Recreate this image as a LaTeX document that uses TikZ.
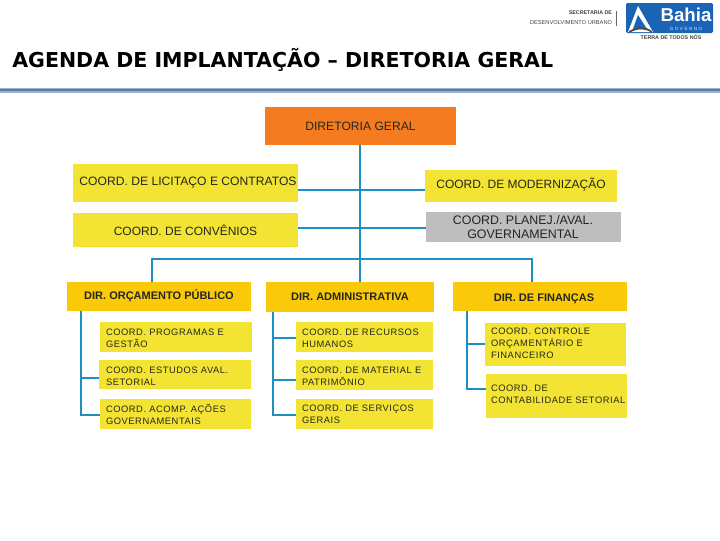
\documentclass[tikz,border=0pt]{standalone}
\usepackage{fontspec}
\setmainfont{Liberation Sans}
\newfontfamily\titlefont{DejaVu Sans}
\newfontfamily\spacedfont[LetterSpace=6]{Liberation Sans}
\definecolor{ybox}{HTML}{F3E433}
\definecolor{gbox}{HTML}{F9C90A}
\definecolor{obox}{HTML}{F47B20}
\definecolor{gybox}{HTML}{BEBEBE}
\definecolor{link}{HTML}{1E8FC4}
\definecolor{txt}{HTML}{26261E}
\definecolor{rulea}{HTML}{4F7FAF}
\definecolor{ruleb}{HTML}{9DB3CB}
\definecolor{logob}{HTML}{1B63B4}
\tikzset{
  x=0.75pt,y=-0.75pt,
  boxbase/.style={inner sep=0pt,outer sep=0pt,text=txt,align=center,font=\fontsize{9pt}{10.5pt}\selectfont},
  linebox/.style={boxbase,fill=ybox},
  dirbox/.style={boxbase,fill=gbox,font=\bfseries\fontsize{8.25pt}{10pt}\selectfont},
  topbox/.style={boxbase,fill=obox,font=\fontsize{9.1pt}{10.5pt}\selectfont},
  grayBox/.style={boxbase,fill=gybox,font=\fontsize{9.3pt}{10.5pt}\selectfont},
  subtext/.style={inner sep=0pt,outer sep=0pt,text=txt,align=left,anchor=north west,font=\spacedfont\fontsize{7pt}{9pt}\selectfont},
  conn/.style={draw=link,line width=1.5pt},
  logotext/.style={inner sep=0pt,outer sep=0pt,text=black!75},
}
\newcommand{\abox}[7]{\node[#1,minimum width=#4*0.75pt-#2*0.75pt,minimum height=#5*0.75pt-#3*0.75pt,anchor=north west] (#6) at (#2,#3) {#7};}
\begin{document}
\begin{tikzpicture}
\useasboundingbox (0,0) rectangle (720,540);
% logo
\node[logotext,anchor=east,font=\bfseries\fontsize{4pt}{4pt}\selectfont] (sec) at (612,13) {SECRETARIA DE};
\node[logotext,anchor=east,font=\fontsize{4.25pt}{5pt}\selectfont] (des) at (612,23) {DESENVOLVIMENTO URBANO};
\fill[black!60] (616,11) rectangle (616.8,26);
\fill[logob,rounded corners=1pt] (626,3) rectangle (713,33);
\fill[white] (638,6) -- (628,32) -- (653,32) -- cycle;
\fill[logob] (638,15) -- (633,29) -- (647,29) -- cycle;
\fill[black!70] (629,31) .. controls (638,26) and (645,26) .. (652,31) -- (652,33) .. controls (645,28) and (638,28) .. (629,33) -- cycle;
\node[inner sep=0pt,text=white,font=\bfseries\fontsize{14pt}{14pt}\selectfont,anchor=center] (bah) at (686,14.5) {Bahia};
\node[inner sep=0pt,text=white!85!logob,font=\fontsize{3.4pt}{3.4pt}\selectfont,anchor=center] (gov) at (686,28.5) {G\,\,O\,\,V\,\,E\,\,R\,\,N\,\,O};
\node[logotext,font=\bfseries\fontsize{4pt}{4pt}\selectfont,anchor=center] (ter) at (671,37.5) {TERRA DE TODOS NÓS};
% title
\node[inner sep=0pt,anchor=west,text=black,font=\titlefont\bfseries\fontsize{15.4pt}{16pt}\selectfont] (title) at (12,59.5) {AGENDA DE IMPLANTAÇÃO – DIRETORIA GERAL};
\fill[ruleb] (0,88) rectangle (720,92.5);
\fill[rulea] (0,89) rectangle (720,91);
% boxes
\abox{topbox}{265}{107}{456}{145}{dg}{DIRETORIA GERAL}
\abox{linebox}{73}{164}{298}{202}{lic}{}
\node[boxbase,anchor=center,font=\fontsize{9.1pt}{10.5pt}\selectfont] (lictxt) at (188,183) {COORD. DE LICITAÇO E CONTRATOS};
\abox{linebox}{73}{213}{298}{247}{conv}{COORD. DE CONVÊNIOS}
\abox{linebox}{425}{170}{617}{202}{mod}{}
\node[boxbase,anchor=center] (modt) at (521,184.5) {COORD. DE MODERNIZAÇÃO};
\abox{grayBox}{426}{212}{621}{242}{plan}{}
\node[grayBox,fill=none,anchor=center] (plant) at (523,227) {COORD. PLANEJ./AVAL.\\GOVERNAMENTAL};
\abox{dirbox}{67}{282}{251}{311}{dorc}{}
\node[dirbox,fill=none,anchor=center] (dorct) at (159,296) {DIR. ORÇAMENTO PÚBLICO};
\abox{dirbox}{266}{282}{434}{312}{dadm}{DIR. ADMINISTRATIVA}
\abox{dirbox}{453}{282}{627}{311}{dfin}{}
\node[dirbox,fill=none,anchor=center] (dfint) at (544,298.5) {DIR. DE FINANÇAS};
\abox{linebox}{100}{322}{252}{352}{c1}{}
\abox{linebox}{99}{360}{251}{389}{c2}{}
\abox{linebox}{100}{399}{251}{429}{c3}{}
\abox{linebox}{296}{322}{433}{352}{c4}{}
\abox{linebox}{296}{360}{433}{390}{c5}{}
\abox{linebox}{296}{399}{433}{429}{c6}{}
\abox{linebox}{485}{323}{626}{366}{c7}{}
\abox{linebox}{486}{374}{627}{418}{c8}{}
\node[subtext] (t1) at (106,328.5) {COORD. PROGRAMAS E\\GESTÃO};
\node[subtext] (t2) at (106,366.5) {COORD. ESTUDOS  AVAL.\\SETORIAL};
\node[subtext] (t3) at (106,404.5) {COORD. ACOMP. AÇÕES\\GOVERNAMENTAIS};
\node[subtext] (t4) at (302,328.5) {COORD. DE RECURSOS\\HUMANOS};
\node[subtext] (t5) at (302,366.5) {COORD. DE MATERIAL E\\PATRIMÔNIO};
\node[subtext] (t6) at (302,404.5) {COORD. DE SERVIÇOS\\GERAIS};
\node[subtext] (t7) at (491,327.5) {COORD. CONTROLE\\ORÇAMENTÁRIO E\\FINANCEIRO};
\node[subtext] (t8) at (491,384.5) {COORD. DE\\CONTABILIDADE SETORIAL};
% connectors
\coordinate (busL) at (152,258.5);
\coordinate (busR) at (532,258.5);
\draw[conn] (dg.south -| 360,0) -- (dadm.north -| 360,0);
\draw[conn] (lic.east |- 0,190) -- (mod.west |- 0,190);
\draw[conn] (conv.east |- 0,227.5) -- (plan.west |- 0,227.5);
\draw[conn] (dorc.north -| busL) -- (busL) -- (busR) -- (dfin.north -| busR);
\draw[conn] (dorc.south -| 81,0) -- (81,415) -- (c3.west |- 0,415);
\draw[conn] (81,378) -- (c2.west |- 0,378);
\draw[conn] (dadm.south -| 273,0) -- (273,415) -- (c6.west |- 0,415);
\draw[conn] (273,338) -- (c4.west |- 0,338);
\draw[conn] (273,380) -- (c5.west |- 0,380);
\draw[conn] (dfin.south -| 467,0) -- (467,389) -- (c8.west |- 0,389);
\draw[conn] (467,344) -- (c7.west |- 0,344);
\end{tikzpicture}
\end{document}
